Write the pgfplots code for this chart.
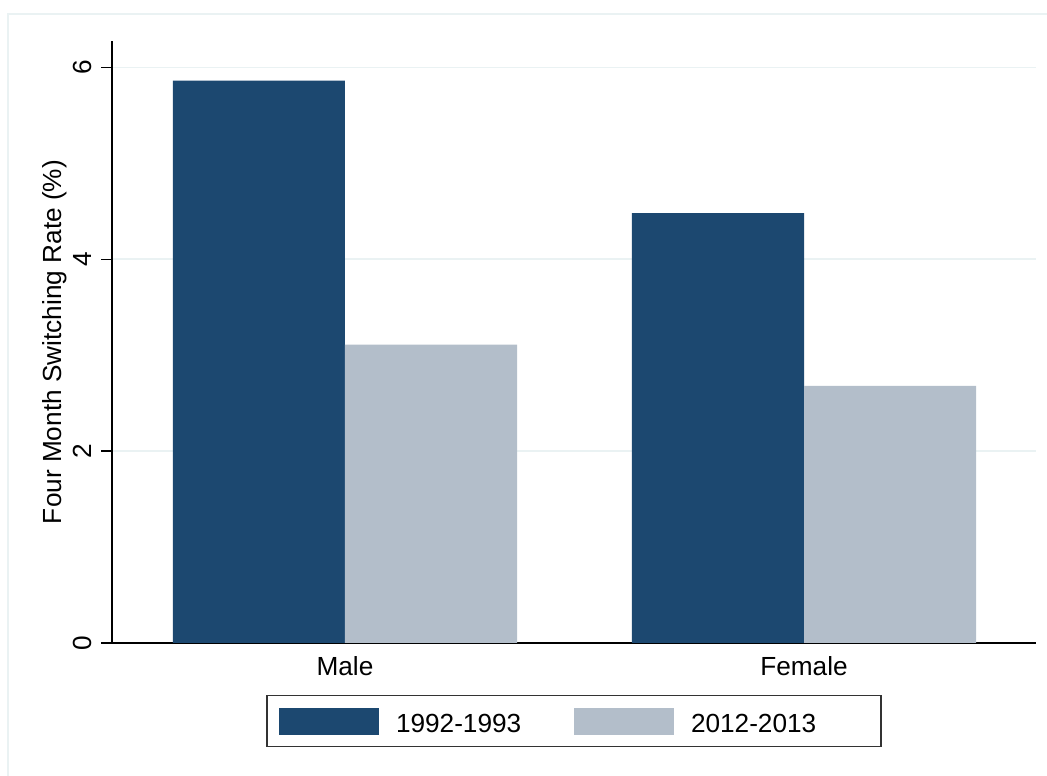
\documentclass[border=0pt]{standalone}
\usepackage{fontspec}
\setmainfont{Liberation Sans}
\usepackage{pgfplots}
\pgfplotsset{compat=1.18}
\definecolor{darkbar}{RGB}{28,72,112}
\definecolor{lightbar}{RGB}{179,190,202}
\definecolor{gridc}{RGB}{234,242,243}
\newcommand{\ff}{\fontsize{26.2}{31}\selectfont}
\begin{document}
\begin{tikzpicture}
\useasboundingbox (0,0) rectangle (1047pt,776pt);
\draw[gridc, line width=1.2pt] (8pt,0) -- (8pt,762pt) -- (1047pt,762pt);
\begin{axis}[
  at={(112pt,133pt)}, anchor=south west,
  width=924pt, height=602pt, scale only axis,
  xmin=-0.5076, xmax=1.5054, ymin=0, ymax=6.274,
  axis x line*=bottom, axis y line*=left,
  axis line style={line width=1.2pt, black, -},
  xtick={0,1}, xticklabels={Male,Female},
  ytick={0,2,4,6},
  major tick length=11pt, tick align=outside,
  x tick style={draw=none},
  y tick style={line width=1.2pt, black},
  ymajorgrids, major grid style={gridc, line width=1.5pt},
  xticklabel style={anchor=base, font=\ff},
  xticklabel shift=22pt,
  yticklabel style={rotate=90, anchor=base, font=\ff},
  yticklabel shift=10pt,
  /pgf/number format/assume math mode=true,
  ylabel={Four Month Switching Rate (\%)},
  every axis y label/.style={at={(axis description cs:-0.05519,0.5)}, rotate=90, anchor=base, font=\ff},
  ybar, bar width=0.375,
  legend columns=2,
  legend style={at={(0.5,-0.1296)}, anchor=center, draw=black!80, line width=1.3pt,
    inner xsep=12pt, inner ysep=11.5pt, font=\ff,
    nodes={inner sep=0pt, text height=25pt, text depth=2pt, text width=178pt, align=left},
    /tikz/every odd column/.style={column sep=17pt},
    /tikz/every even column/.style={column sep=0pt}},
  legend image code/.code={\fill[#1] (0pt,-14pt) rectangle (100pt,13pt);},
]
\addplot[fill=darkbar, draw=none, bar shift=-0.1875] coordinates {(0,5.86) (1,4.48)};
\addplot[fill=lightbar, draw=none, bar shift=0.1875] coordinates {(0,3.11) (1,2.68)};
\legend{1992-1993, 2012-2013}
\end{axis}
\end{tikzpicture}
\end{document}
